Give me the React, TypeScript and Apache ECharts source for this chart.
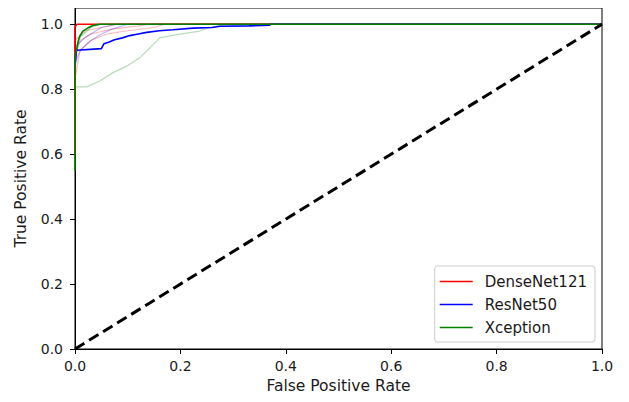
import React, { useEffect, useRef } from "react";
import * as echarts from "echarts";

// ---- data ----
const denseX = [0, 0, 0.003, 1];
const denseY = [0.6, 0.99, 1.0, 1.0];

const resX = [0, 0.003, 0.05, 0.055, 0.065, 0.075, 0.09, 0.104, 0.12, 0.136, 0.16, 0.186, 0.224, 0.26, 0.275, 0.33, 0.37, 0.37, 1];
const resY = [0.87, 0.92, 0.925, 0.94, 0.945, 0.952, 0.958, 0.965, 0.97, 0.975, 0.98, 0.983, 0.988, 0.99, 0.994, 0.995, 0.997, 1.0, 1.0];

const xcepX = [0, 0, 0.003, 0.006, 0.009, 0.015, 0.025, 0.034, 0.047, 1];
const xcepY = [0.55, 0.9, 0.922, 0.948, 0.963, 0.979, 0.989, 0.996, 1.0, 1.0];

// faint per-fold curves
const foldRed1X = [0, 0.005, 0.01, 0.03, 0.06, 0.1, 0.15, 0.17, 1];
const foldRed1Y = [0.83, 0.88, 0.92, 0.95, 0.97, 0.98, 0.99, 1.0, 1.0];
const foldRed2X = [0, 0.01, 0.03, 0.07, 0.12, 0.14, 1];
const foldRed2Y = [0.9, 0.95, 0.97, 0.985, 0.995, 1.0, 1.0];
const foldRed3X = [0, 0.02, 0.05, 0.08, 1];
const foldRed3Y = [0.95, 0.98, 0.99, 1.0, 1.0];
const foldBlue1X = [0, 0.01, 0.03, 0.05, 0.07, 0.1, 1];
const foldBlue1Y = [0.88, 0.92, 0.95, 0.97, 0.985, 1.0, 1.0];
const foldBlue2X = [0, 0.02, 0.05, 0.08, 1];
const foldBlue2Y = [0.93, 0.96, 0.99, 1.0, 1.0];
const foldGreen1X = [0, 0.003, 0.022, 0.047, 0.072, 0.098, 0.123, 0.142, 0.161, 0.193, 0.237, 0.253, 0.275, 0.29, 1];
const foldGreen1Y = [0.807, 0.807, 0.807, 0.825, 0.851, 0.871, 0.897, 0.927, 0.958, 0.968, 0.979, 0.989, 0.996, 1.0, 1.0];
const foldGreen2X = [0, 0.01, 0.03, 0.05, 1];
const foldGreen2Y = [0.9, 0.96, 0.99, 1.0, 1.0];

const diagX = [0, 1];
const diagY = [0, 1];

const yTicks = [0, 0.2, 0.4, 0.6, 0.8, 1.0];
const xTicks = [0, 0.2, 0.4, 0.6, 0.8, 1.0];

const legendNames = ["DenseNet121", "ResNet50", "Xception"];

const zip = (xs: number[], ys: number[]) => xs.map((x, i) => [x, ys[i]]);

const FONT = "DejaVu Sans";

export default function App() {
  const ref = useRef<HTMLDivElement>(null);
  useEffect(() => {
    if (!ref.current) return;
    const chart = echarts.init(ref.current, null, { renderer: "svg" });
    const faint = (name: string, xs: number[], ys: number[], color: string) => ({
      name,
      type: "line",
      data: zip(xs, ys),
      symbol: "none",
      lineStyle: { color, width: 1.2, opacity: 0.28 },
      itemStyle: { color },
      silent: true,
    });
    const main = (name: string, xs: number[], ys: number[], color: string) => ({
      name,
      type: "line",
      data: zip(xs, ys),
      symbol: "none",
      lineStyle: { color, width: 1.6 },
      itemStyle: { color },
    });
    chart.setOption({
      animation: false,
      backgroundColor: "#fff",
      textStyle: { fontFamily: FONT },
      grid: {
        left: 75,
        right: 27,
        top: 8,
        bottom: 53,
        show: true,
        borderColor: "#000",
        borderWidth: 1,
      },
      legend: {
        data: legendNames,
        orient: "vertical",
        right: 34,
        top: 266,
        icon: "rect",
        itemWidth: 33,
        itemHeight: 1.5,
        itemGap: 8,
        padding: [8, 8, 7, 5],
        backgroundColor: "rgba(255,255,255,0.8)",
        borderColor: "#cccccc",
        borderWidth: 1,
        borderRadius: 3,
        textStyle: { fontFamily: FONT, fontSize: 15, color: "#1a1a1a", padding: [0, 0, 0, 7], lineHeight: 15 },
      },
      xAxis: {
        type: "value",
        min: 0,
        max: 1,
        name: "False Positive Rate",
        nameLocation: "middle",
        nameGap: 28,
        nameTextStyle: { fontFamily: FONT, fontSize: 15.5, color: "#1a1a1a" },
        splitLine: { show: false },
        axisLine: { show: true, onZero: false, lineStyle: { color: "#000", width: 1 } },
        axisTick: { show: true, length: 5, lineStyle: { color: "#000" }, customValues: xTicks },
        axisLabel: {
          customValues: xTicks,
          margin: 10,
          fontFamily: FONT,
          fontSize: 14,
          color: "#1a1a1a",
          formatter: (v: number) => v.toFixed(1),
        },
      },
      yAxis: {
        type: "value",
        min: 0,
        max: 1.05,
        name: "True Positive Rate",
        nameLocation: "middle",
        nameGap: 46,
        nameRotate: 90,
        nameTextStyle: { fontFamily: FONT, fontSize: 15.5, color: "#1a1a1a" },
        splitLine: { show: false },
        axisLine: { show: true, onZero: false, lineStyle: { color: "#000", width: 1 } },
        axisTick: { show: true, length: 5, lineStyle: { color: "#000" }, customValues: yTicks },
        axisLabel: {
          customValues: yTicks,
          margin: 12,
          fontFamily: FONT,
          fontSize: 14,
          color: "#1a1a1a",
          formatter: (v: number) => v.toFixed(1),
        },
      },
      series: [
        faint("f-r1", foldRed1X, foldRed1Y, "#ff0000"),
        faint("f-r2", foldRed2X, foldRed2Y, "#ff0000"),
        faint("f-r3", foldRed3X, foldRed3Y, "#ff0000"),
        faint("f-b1", foldBlue1X, foldBlue1Y, "#0000ff"),
        faint("f-b2", foldBlue2X, foldBlue2Y, "#0000ff"),
        faint("f-g1", foldGreen1X, foldGreen1Y, "#008000"),
        faint("f-g2", foldGreen2X, foldGreen2Y, "#008000"),
        main(legendNames[0], denseX, denseY, "#ff0000"),
        main(legendNames[1], resX, resY, "#0000ff"),
        main(legendNames[2], xcepX, xcepY, "#008000"),
        {
          name: "chance",
          type: "line",
          data: zip(diagX, diagY),
          symbol: "none",
          lineStyle: { color: "#000", width: 3, type: [11, 5.5] },
          silent: true,
        },
      ],
    });
    return () => chart.dispose();
  }, []);
  return <div ref={ref} style={{ width: 629, height: 402, margin: -8 }} />;
}
